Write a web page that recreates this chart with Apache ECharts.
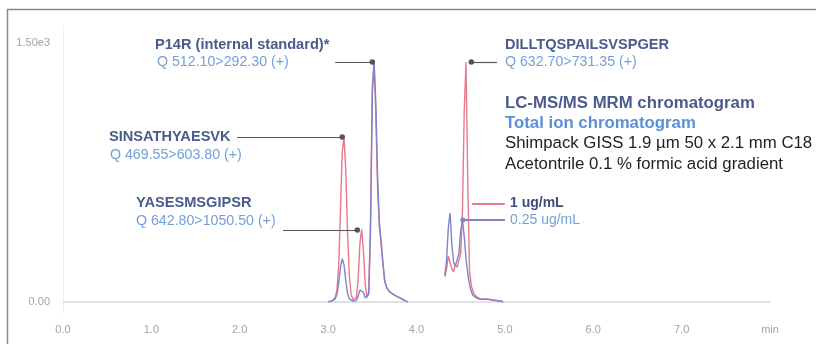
<!DOCTYPE html>
<html><head><meta charset="utf-8">
<script src="https://cdn.jsdelivr.net/npm/echarts@6/dist/echarts.min.js"></script>
<style>html,body{margin:0;padding:0;background:#fff}#c{width:816px;height:344px}</style>
</head><body><div id="c"></div>
<script>
// retention time (min), segment 1 and segment 2
const rtSeg1 = [3.00,3.02,3.04,3.06,3.08,3.10,3.12,3.14,3.16,3.18,3.20,3.22,3.24,3.26,3.28,3.30,3.32,3.34,3.36,3.38,3.40,3.42,3.44,3.46,3.48,3.50,3.52,3.54,3.56,3.58,3.60,3.62,3.64,3.66,3.68,3.70,3.72,3.74,3.76,3.78,3.80,3.82,3.84,3.86,3.88,3.90];
const red1  = [2,3,5,10,25,70,210,540,870,950,760,400,150,45,14,8,25,130,340,420,290,100,25,60,480,1250,1390,1080,650,430,330,220,120,85,68,56,48,42,36,31,27,21,15,9,4,1];
const blue1 = [2,3,4,8,18,45,110,200,250,215,120,50,18,8,5,4,10,35,70,80,55,22,12,45,420,1200,1390,1150,720,460,350,230,125,88,70,58,50,43,37,32,28,22,16,10,5,1];
const rtGap = 4.10;
const rtSeg2 = [4.32,4.34,4.36,4.38,4.40,4.42,4.44,4.46,4.48,4.50,4.52,4.54,4.56,4.58,4.60,4.62,4.64,4.66,4.68,4.70,4.72,4.74,4.76,4.78,4.80,4.82,4.84,4.86,4.88,4.90,4.92,4.94,4.96,4.98];
const red2  = [145,190,265,255,190,175,215,200,210,280,520,1100,1390,700,180,95,60,40,30,24,20,16,14,18,12,16,9,12,6,9,4,6,2,1];
const blue2 = [155,240,430,515,330,230,210,215,280,410,475,380,250,165,100,60,38,28,22,18,15,14,16,12,15,10,13,8,10,5,7,3,4,1];

const xTickLabels = {0:'0.0',1:'1.0',2:'2.0',3:'3.0',4:'4.0',5:'5.0',6:'6.0',7:'7.0',8:'min'};
const yTickLabels = {0:'0.00',1500:'1.50e3'};

const seriesNames = ['1 ug/mL','0.25 ug/mL'];

// leader lines [xStart, xEnd, y]
const leaderP14R  = [3.08, 3.50, 1390];
const leaderSINS  = [1.97, 3.16, 955];
const leaderYASES = [2.49, 3.33, 417];
const leaderDILL  = [4.91, 4.62, 1390];
const legendRed   = [4.63, 5.00, 568];
const legendBlue  = [4.525, 5.00, 475];

function pairs(rt, v){ return rt.map((t,i)=>[t, v[i]]); }
function build(a, b){ return pairs(rtSeg1, a).concat([[rtGap, null]], pairs(rtSeg2, b)); }

const FONT = "'Liberation Sans', Arial, sans-serif";
const DARK = '#4a5b8c', LIGHT = '#74a0d8', RED = '#e8798d', BLUE = '#7f83c8', LEAD = '#555';
const TITLE = 'bold 14.6px ' + FONT, QF = '14.2px ' + FONT, INFO = '16.8px ' + FONT;

function lead(l, withDot){
  return [{coord:[l[0], l[2]], symbol:'none'}, {coord:[l[1], l[2]], symbol: withDot ? 'circle':'none', symbolSize: 5.5}];
}

const chart = echarts.init(document.getElementById('c'), null, {renderer:'canvas'});
chart.setOption({
  animation:false,
  grid:{left:63, right:46, top:25.7, bottom:31},
  xAxis:{type:'value', min:0, max:8, interval:1,
    axisLine:{show:true, lineStyle:{color:'#d9d9d9', width:1.5}},
    axisTick:{show:false}, splitLine:{show:false},
    axisLabel:{margin:11, color:'#a3a3a3', fontSize:11, fontFamily:FONT, formatter:v=>xTickLabels[v] ?? ''}},
  yAxis:{type:'value', min:-64, max:1600, splitNumber:3,
    axisLine:{show:true, lineStyle:{color:'#f0f0f0', width:1}},
    axisTick:{show:false}, splitLine:{show:false},
    axisLabel:{margin:13, color:'#a3a3a3', fontSize:11, fontFamily:FONT, formatter:v=>yTickLabels[v] ?? ''}},
  series:[
    {name:seriesNames[0], type:'line', data:build(red1, red2), showSymbol:false, connectNulls:false,
      lineStyle:{color:RED, width:1.4}, itemStyle:{color:RED}, silent:true,
      markLine:{silent:true, symbol:['none','none'], label:{show:false},
        lineStyle:{color:LEAD, width:1.2, type:'solid'}, itemStyle:{color:LEAD},
        data:[lead(leaderSINS,true), lead(leaderYASES,true), lead(leaderDILL,true),
              [{coord:[legendRed[0],legendRed[2]], lineStyle:{color:RED, width:2}}, {coord:[legendRed[1],legendRed[2]]}]]}},
    {name:seriesNames[1], type:'line', data:build(blue1, blue2), showSymbol:false, connectNulls:false,
      lineStyle:{color:BLUE, width:1.4}, itemStyle:{color:BLUE}, silent:true,
      markLine:{silent:true, symbol:['none','none'], label:{show:false},
        lineStyle:{color:LEAD, width:1.2, type:'solid'}, itemStyle:{color:LEAD},
        data:[lead(leaderP14R,true),
              [{coord:[legendBlue[1],legendBlue[2]], symbol:'none', lineStyle:{color:BLUE, width:2}}, {coord:[legendBlue[0],legendBlue[2]], symbol:'circle', symbolSize:5}]]}}
  ],
  graphic:[
    {type:'rect', shape:{x:7.5, y:9.5, width:830, height:360}, style:{fill:'none', stroke:'#8a8a8a', lineWidth:1.5}, silent:true},
    {type:'text', left:155, top:37, style:{text:'P14R (internal standard)*', font:TITLE, fill:DARK}},
    {type:'text', left:157, top:55, style:{text:'Q 512.10>292.30 (+)', font:QF, fill:LIGHT}},
    {type:'text', left:109, top:129, style:{text:'SINSATHYAESVK', font:TITLE, fill:DARK}},
    {type:'text', left:110, top:148, style:{text:'Q 469.55>603.80 (+)', font:QF, fill:LIGHT}},
    {type:'text', left:136, top:195, style:{text:'YASESMSGIPSR', font:TITLE, fill:DARK}},
    {type:'text', left:136, top:214, style:{text:'Q 642.80>1050.50 (+)', font:QF, fill:LIGHT}},
    {type:'text', left:505, top:37, style:{text:'DILLTQSPAILSVSPGER', font:TITLE, fill:DARK}},
    {type:'text', left:505, top:55, style:{text:'Q 632.70>731.35 (+)', font:QF, fill:LIGHT}},
    {type:'text', left:505, top:95, style:{text:'LC-MS/MS MRM chromatogram', font:'bold '+INFO, fill:DARK}},
    {type:'text', left:505, top:115, style:{text:'Total ion chromatogram', font:'bold '+INFO, fill:'#5a8fdb'}},
    {type:'text', left:505, top:135, style:{text:'Shimpack GISS 1.9 µm 50 x 2.1 mm C18', font:INFO, fill:'#222'}},
    {type:'text', left:505, top:156, style:{text:'Acetontrile 0.1 % formic acid gradient', font:INFO, fill:'#222'}},
    {type:'text', left:510, top:196, style:{text:seriesNames[0], font:'bold 14px '+FONT, fill:'#3f4c7c'}},
    {type:'text', left:510, top:213, style:{text:seriesNames[1], font:'14px '+FONT, fill:LIGHT}}
  ]
});
</script></body></html>
